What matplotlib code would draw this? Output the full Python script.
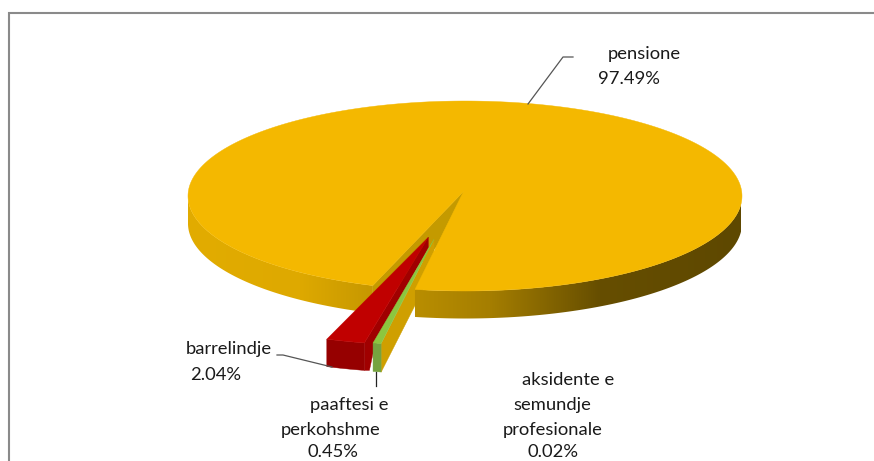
import numpy as np
import matplotlib
matplotlib.use("Agg")
import matplotlib.pyplot as plt
from matplotlib.colors import to_rgb
from matplotlib.patches import Polygon

plt.rcParams["font.family"] = ["Lato", "DejaVu Sans"]

# ---------- data ----------
labels = ["pensione", "barrelindje", "paaftesi e perkohshme", "aksidente e semundje profesionale"]
shares = [97.49, 2.04, 0.45, 0.02]

# ---------- fake 3D projection, in pixels ----------
W, H = 874, 461
START = 259.6  # where the big slice starts, ccw on screen
DEPTH = 27.5
CX, CY, RX, RY = 465, 196, 277, 95
MAIN_APEX = (463.5, 191.5)
RED = dict(apex=(428.3, 237.3), rx=305, ry=108)
GREEN = dict(apex=(434, 239.3), rx=291, ry=106)
TINY = dict(apex=(434, 239.5), rx=291, ry=106)

GOLD_TOP, GOLD_CUT = "#F4B800", "#C49A00"
RED_TOP, RED_FRONT, RED_SIDE = "#C00000", "#960000", "#A00000"
GREEN_TOP, GREEN_FRONT = "#8CC63F", "#76A33F"
RIM_X = [188, 300, 370, 415, 490, 600, 741]
RIM_COL = ["#E2AC00", "#DEA900", "#C79800", "#B98E00", "#A57E00", "#664E00", "#5E4800"]

# slice angles from the shares
edges = START + np.cumsum([0] + shares) * 3.6


def arc(t0, t1, cx=CX, cy=CY, rx=RX, ry=RY, n=200):
    t = np.radians(np.linspace(t0, t1, n))
    return cx + rx * np.cos(t), cy - ry * np.sin(t)


def poly(ax, xs, ys, color, z):
    ax.fill(xs, ys, facecolor=color, edgecolor=color, lw=0.3, zorder=z)


fig = plt.figure(figsize=(W / 100, H / 100), dpi=100)
ax = fig.add_axes([0, 0, 1, 1])

# chart frame (only top and left show in the crop)
ax.plot([9, 9, W], [H, 13, 13], color="#8a8a8a", lw=1.5, zorder=1, solid_joinstyle="miter")

# left cut face of the big slice
main_end = edges[1] - 360
ex, ey = arc(main_end, main_end, n=1)
poly(ax, [MAIN_APEX[0], ex[0], ex[0], MAIN_APEX[0]],
     [MAIN_APEX[1], ey[0], ey[0] + DEPTH, MAIN_APEX[1] + DEPTH], GOLD_CUT, 2)

# tiny 0.02% slice, only its cut face is visible
tx, ty = arc(edges[3], edges[3], TINY["apex"][0], TINY["apex"][1], TINY["rx"], TINY["ry"], n=1)
poly(ax, [TINY["apex"][0], tx[0], tx[0], TINY["apex"][0]],
     [TINY["apex"][1], ty[0], ty[0] + DEPTH + 1, TINY["apex"][1] + DEPTH + 1], "#CF9F00", 3)

# rim of the big slice: one horizontal gradient clipped to the two visible parts
grad_x = np.arange(RIM_X[0], RIM_X[-1] + 1)
rgb = np.array([to_rgb(c) for c in RIM_COL])
grad = np.stack([np.interp(grad_x, RIM_X, rgb[:, i]) for i in range(3)], axis=1)[None, :, :]
for t0, t1 in [(180, main_end), (START, 360)]:
    x, y = arc(t0, t1, n=200)
    im = ax.imshow(grad, extent=[RIM_X[0], RIM_X[-1], 340, 190], aspect="auto", zorder=4,
                   interpolation="bilinear")
    clip = Polygon(np.c_[np.r_[x, x[::-1]], np.r_[y, y[::-1] + DEPTH]], transform=ax.transData,
                   facecolor="none", edgecolor="none")
    ax.add_patch(clip)
    im.set_clip_path(clip)

# top of the big slice
x, y = arc(START, edges[1], n=500)
poly(ax, np.r_[MAIN_APEX[0], x], np.r_[MAIN_APEX[1], y], GOLD_TOP, 5)

# red slice, the cut face stops where the green slice hides it
ax_r, ay_r = RED["apex"]
x, y = arc(edges[1], edges[2], ax_r, ay_r, RED["rx"], RED["ry"], n=30)
poly(ax, [ax_r, x[-1], x[-1], x[-1] + 5, x[-1] + 10, ax_r],
     [ay_r, y[-1], y[-1] + DEPTH, y[-1] + DEPTH, y[-1] + 4, ay_r + 10], RED_SIDE, 6)
poly(ax, np.r_[x, x[::-1]], np.r_[y, y[::-1] + DEPTH], RED_FRONT, 6.5)
poly(ax, np.r_[ax_r, x], np.r_[ay_r, y], RED_TOP, 7)

# green slice
ax_g, ay_g = GREEN["apex"]
x, y = arc(edges[2], edges[3], ax_g, ay_g, GREEN["rx"], GREEN["ry"], n=10)
poly(ax, np.r_[x, x[::-1]], np.r_[y, y[::-1] + DEPTH + 1], GREEN_FRONT, 8)
poly(ax, np.r_[ax_g, x], np.r_[ay_g, y], GREEN_TOP, 9)

# leader lines
lead = dict(color="#555555", lw=0.9, zorder=10)
ax.plot([528, 563, 573], [104, 57, 57], **lead)
ax.plot([277, 283, 332], [355, 355, 367], **lead)
ax.plot([376, 376], [372, 386], color="#222222", lw=0.9, zorder=10)

# labels (each line is placed on its own, as in the original)
txt = dict(fontsize=13.2, color="#1a1a1a", va="baseline", ha="left", zorder=11)
ax.text(608, 59, "pensione", **txt)
ax.text(598, 84, f"{shares[0]:.2f}%", **txt)
ax.text(186, 354, "barrelindje", **txt)
ax.text(190, 380, f"{shares[1]:.2f}%", **txt)
ax.text(310, 410, "paaftesi e", **txt)
ax.text(281, 435, "perkohshme", **txt)
ax.text(307, 457, f"{shares[2]:.2f}%", **txt)
ax.text(522, 385, "aksidente e", **txt)
ax.text(513, 410, "semundje", **txt)
ax.text(503, 435, "profesionale", **txt)
ax.text(527, 457, f"{shares[3]:.2f}%", **txt)

ax.set_xlim(0, W); ax.set_ylim(H, 0); ax.axis("off")
fig.savefig("out.png", dpi=100)
